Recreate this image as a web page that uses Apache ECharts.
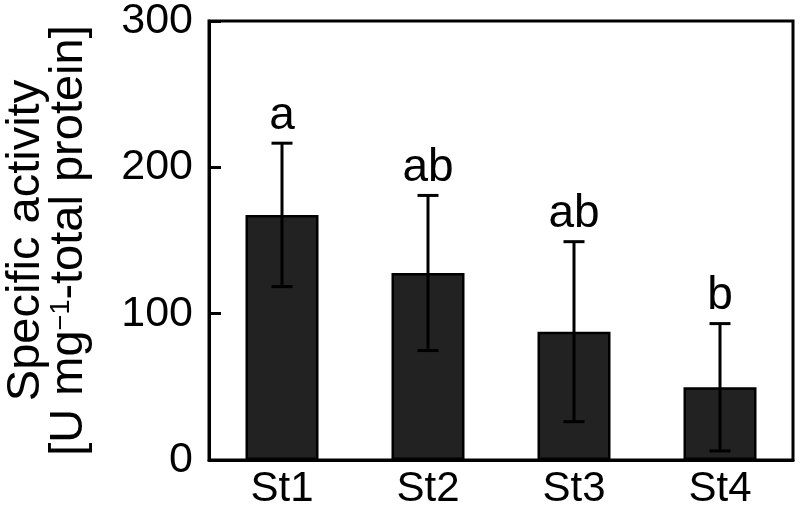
<!DOCTYPE html>
<html><head><meta charset="utf-8">
<script src="https://cdn.jsdelivr.net/npm/echarts@6/dist/echarts.min.js"></script>
<style>html,body{margin:0;padding:0;background:#fff}#c{width:801px;height:516px}</style>
</head><body><div id="c"></div>
<script>
const categories = ['St1', 'St2', 'St3', 'St4'];
const means = [167.5, 127.8, 87.7, 49.7];
const errors = [49, 53, 61.5, 43.5];
const letters = ['a', 'ab', 'ab', 'b'];
const yTicks = [0, 100, 200, 300];

const FONT = 'Liberation Sans';
const chart = echarts.init(document.getElementById('c'));
chart.setOption({
  animation: false,
  grid: { left: 209, right: 8, top: 21, bottom: 56, show: true, borderColor: '#000', borderWidth: 3,
    containLabel: false, outerBoundsMode: 'none' },
  xAxis: {
    type: 'category', data: categories,
    axisLine: { lineStyle: { color: '#000', width: 3 } },
    axisTick: { show: false },
    axisLabel: { color: '#000', fontSize: 42, fontFamily: FONT, margin: 8 }
  },
  yAxis: {
    type: 'value', min: 0, max: 300, interval: 100,
    splitLine: { show: false },
    axisLine: { show: true, lineStyle: { color: '#000', width: 3 } },
    axisTick: { show: true, inside: true, length: 12, lineStyle: { color: '#000', width: 3 } },
    axisLabel: { color: '#000', fontSize: 43, fontFamily: FONT, margin: 16,
      formatter: v => yTicks.includes(v) ? String(v) : '' },
    name: '{a|Specific activity}\n{a|[U mg}{sup|−1}{a|-total protein]}',
    nameLocation: 'middle', nameRotate: 90, nameGap: 118,
    nameTextStyle: {
      fontSize: 47, fontFamily: FONT, color: '#000', lineHeight: 43,
      rich: {
        a: { fontSize: 47, fontFamily: FONT, color: '#000', lineHeight: 43 },
        sup: { fontSize: 27, fontFamily: FONT, color: '#000', lineHeight: 43, verticalAlign: 'top', padding: [0, 0, 16, 0] }
      }
    }
  },
  series: [
    {
      type: 'bar', data: means, barWidth: '50%',
      itemStyle: { color: '#222222', borderColor: '#000', borderWidth: 2.5 },
      z: 2
    },
    {
      type: 'custom',
      data: categories.map((c, i) => [i, means[i] - errors[i], means[i] + errors[i]]),
      z: 5,
      renderItem: function (params, api) {
        const lo = api.coord([api.value(0), api.value(1)]);
        const hi = api.coord([api.value(0), api.value(2)]);
        const hw = 10.5;
        const st = { stroke: '#000', lineWidth: 3 };
        return {
          type: 'group',
          children: [
            { type: 'line', shape: { x1: hi[0], y1: hi[1], x2: lo[0], y2: lo[1] }, style: st },
            { type: 'line', shape: { x1: hi[0] - hw, y1: hi[1], x2: hi[0] + hw, y2: hi[1] }, style: st },
            { type: 'line', shape: { x1: lo[0] - hw, y1: lo[1], x2: lo[0] + hw, y2: lo[1] }, style: st },
            { type: 'text', x: hi[0], y: hi[1] - 4,
              style: { text: letters[params.dataIndex], fill: '#000', fontSize: 46, fontFamily: FONT, align: 'center', verticalAlign: 'bottom' } }
          ]
        };
      }
    }
  ]
});
</script></body></html>
